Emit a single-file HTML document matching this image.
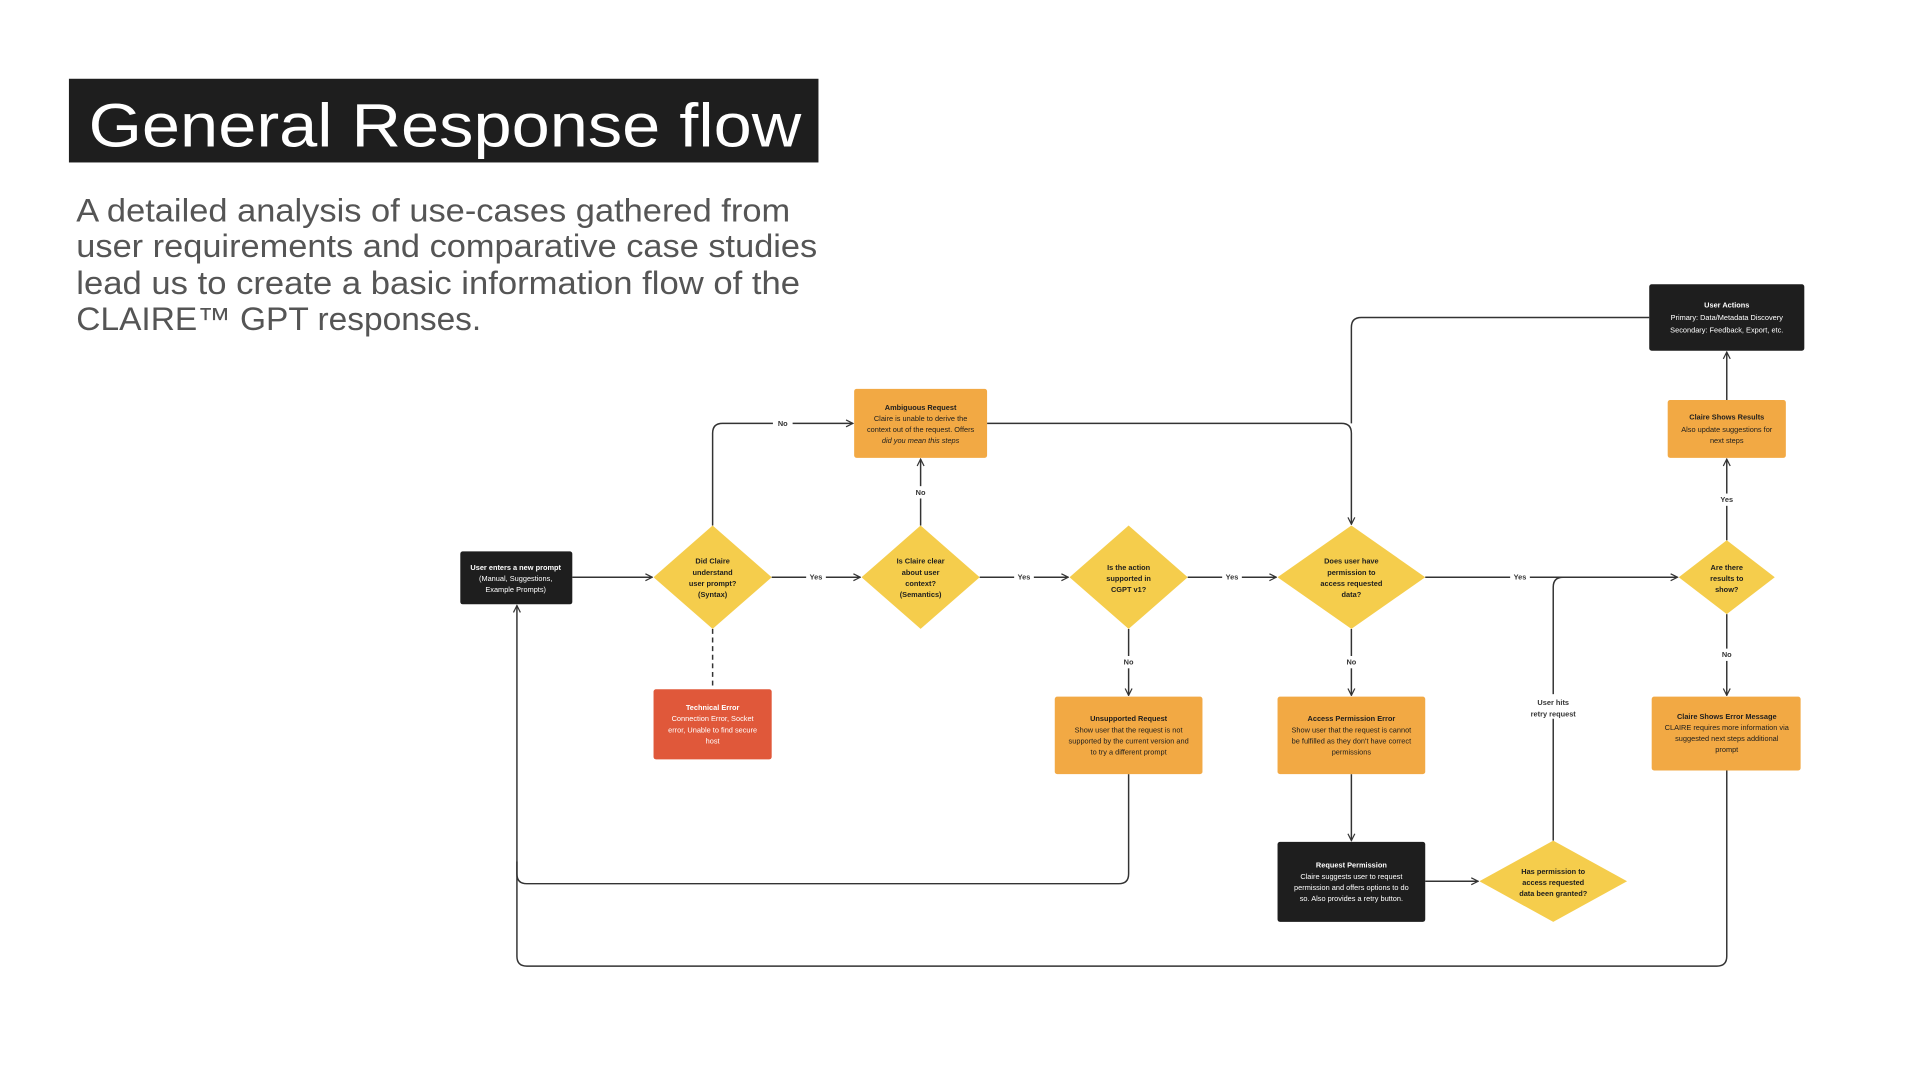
<!DOCTYPE html>
<html><head><meta charset="utf-8"><style>
html,body{margin:0;padding:0;background:#fff;width:1920px;height:1080px;overflow:hidden}
svg{display:block}
text{font-family:"Liberation Sans",sans-serif}
.t{font-size:6px;text-anchor:middle;fill:#1e1e1e}
.tb{font-weight:bold}
.w{fill:#fff}
.lbl{font-size:6px;text-anchor:middle;fill:#333;font-weight:bold}
.ln{fill:none;stroke:#333;stroke-width:1.2}
</style></head><body>
<svg width="1920" height="1080" viewBox="0 0 1560 877.5" xmlns="http://www.w3.org/2000/svg">
<defs><marker id="a" viewBox="0 0 10 10" refX="9" refY="5" markerWidth="7" markerHeight="7" orient="auto-start-reverse" markerUnits="userSpaceOnUse"><path d="M1 1 L9 5 L1 9" fill="none" stroke="#333" stroke-width="1.4"/></marker></defs>

<rect x="56" y="64" width="609" height="68" fill="#1e1e1e"/>
<text x="72" y="119" font-size="50" fill="#fff" textLength="579" lengthAdjust="spacingAndGlyphs">General Response flow</text>
<g font-size="26" fill="#555">
<text x="62" y="180" textLength="580" lengthAdjust="spacingAndGlyphs">A detailed analysis of use-cases gathered from</text>
<text x="62" y="209" textLength="602" lengthAdjust="spacingAndGlyphs">user requirements and comparative case studies</text>
<text x="62" y="239" textLength="588" lengthAdjust="spacingAndGlyphs">lead us to create a basic information flow of the</text>
<text x="62" y="268" textLength="329" lengthAdjust="spacingAndGlyphs">CLAIRE™ GPT responses.</text>
</g>

<!-- connectors -->
<line class="ln" x1="465" y1="469" x2="530" y2="469" marker-end="url(#a)"/>
<line class="ln" x1="627" y1="469" x2="699" y2="469" marker-end="url(#a)"/>
<line class="ln" x1="796" y1="469" x2="868" y2="469" marker-end="url(#a)"/>
<line class="ln" x1="965" y1="469" x2="1037" y2="469" marker-end="url(#a)"/>
<line class="ln" x1="1158" y1="469" x2="1363" y2="469" marker-end="url(#a)"/>
<path class="ln" d="M579 427 V352 Q579 344 587 344 H693" marker-end="url(#a)"/>
<line class="ln" x1="748" y1="427" x2="748" y2="373" marker-end="url(#a)"/>
<path class="ln" d="M802 344 H1090 Q1098 344 1098 352 V426" marker-end="url(#a)"/>
<path class="ln" d="M1340 258 H1106 Q1098 258 1098 266 V344"/>
<line x1="579" y1="511" x2="579" y2="560" stroke="#333" stroke-width="1.2" stroke-dasharray="4 3"/>
<line class="ln" x1="917" y1="511" x2="917" y2="565" marker-end="url(#a)"/>
<line class="ln" x1="1098" y1="511" x2="1098" y2="565" marker-end="url(#a)"/>
<line class="ln" x1="1098" y1="629" x2="1098" y2="683" marker-end="url(#a)"/>
<line class="ln" x1="1158" y1="716" x2="1201" y2="716" stroke-width="2" marker-end="url(#a)"/>
<path class="ln" d="M1262 683 V477 Q1262 469 1270 469"/>
<line class="ln" x1="1403" y1="439" x2="1403" y2="373" marker-end="url(#a)"/>
<line class="ln" x1="1403" y1="325" x2="1403" y2="286" marker-end="url(#a)"/>
<line class="ln" x1="1403" y1="499" x2="1403" y2="565" marker-end="url(#a)"/>
<path class="ln" d="M917 629 V710 Q917 718 909 718 H428 Q420 718 420 710 V492" marker-end="url(#a)"/>
<path class="ln" d="M1403 626 V777 Q1403 785 1395 785 H428 Q420 785 420 777 V700"/>

<!-- labels on connectors -->
<g>
<rect x="628" y="339" width="16" height="10" fill="#fff"/><text class="lbl" x="636" y="346">No</text>
<rect x="740" y="395" width="16" height="10" fill="#fff"/><text class="lbl" x="748" y="402">No</text>
<rect x="655" y="464" width="16" height="10" fill="#fff"/><text class="lbl" x="663" y="471">Yes</text>
<rect x="824" y="464" width="16" height="10" fill="#fff"/><text class="lbl" x="832" y="471">Yes</text>
<rect x="993" y="464" width="16" height="10" fill="#fff"/><text class="lbl" x="1001" y="471">Yes</text>
<rect x="1227" y="464" width="16" height="10" fill="#fff"/><text class="lbl" x="1235" y="471">Yes</text>
<rect x="909" y="533" width="16" height="10" fill="#fff"/><text class="lbl" x="917" y="540">No</text>
<rect x="1090" y="533" width="16" height="10" fill="#fff"/><text class="lbl" x="1098" y="540">No</text>
<rect x="1395" y="401" width="16" height="10" fill="#fff"/><text class="lbl" x="1403" y="408">Yes</text>
<rect x="1395" y="527" width="16" height="10" fill="#fff"/><text class="lbl" x="1403" y="534">No</text>
<rect x="1240" y="564" width="44" height="20" fill="#fff"/><text class="lbl" x="1262" y="573" font-weight="normal">User hits</text><text class="lbl" x="1262" y="582" font-weight="normal">retry request</text>
</g>

<!-- nodes -->
<rect x="374" y="448" width="91" height="43" rx="2" fill="#1e1e1e"/>
<text class="t w tb" x="419" y="463">User enters a new prompt</text>
<text class="t w" x="419" y="472">(Manual, Suggestions,</text>
<text class="t w" x="419" y="481">Example Prompts)</text>

<g fill="#f5cd4c">
<polygon points="579,427 627,469 579,511 531,469"/>
<polygon points="748,427 796,469 748,511 700,469"/>
<polygon points="917,427 965,469 917,511 869,469"/>
<polygon points="1098,427 1158,469 1098,511 1038,469"/>
<polygon points="1403,439 1442,469 1403,499 1364,469"/>
<polygon points="1262,683 1322,716 1262,749 1202,716"/>
</g>
<g class="tb">
<text class="t tb" x="579" y="458">Did Claire</text><text class="t tb" x="579" y="467">understand</text><text class="t tb" x="579" y="476">user prompt?</text><text class="t tb" x="579" y="485">(Syntax)</text>
<text class="t tb" x="748" y="458">Is Claire clear</text><text class="t tb" x="748" y="467">about user</text><text class="t tb" x="748" y="476">context?</text><text class="t tb" x="748" y="485">(Semantics)</text>
<text class="t tb" x="917" y="463">Is the action</text><text class="t tb" x="917" y="472">supported in</text><text class="t tb" x="917" y="481">CGPT v1?</text>
<text class="t tb" x="1098" y="458">Does user have</text><text class="t tb" x="1098" y="467">permission to</text><text class="t tb" x="1098" y="476">access requested</text><text class="t tb" x="1098" y="485">data?</text>
<text class="t tb" x="1403" y="463">Are there</text><text class="t tb" x="1403" y="472">results to</text><text class="t tb" x="1403" y="481">show?</text>
<text class="t tb" x="1262" y="710">Has permission to</text><text class="t tb" x="1262" y="719">access requested</text><text class="t tb" x="1262" y="728">data been granted?</text>
</g>

<rect x="694" y="316" width="108" height="56" rx="2" fill="#f2a944"/>
<text class="t tb" x="748" y="333">Ambiguous Request</text>
<text class="t" x="748" y="342">Claire is unable to derive the</text>
<text class="t" x="748" y="351">context out of the request. Offers</text>
<text class="t" x="748" y="360" font-style="italic">did you mean this steps</text>

<rect x="531" y="560" width="96" height="57" rx="2" fill="#e0583a"/>
<text class="t w tb" x="579" y="577">Technical Error</text>
<text class="t w" x="579" y="586">Connection Error, Socket</text>
<text class="t w" x="579" y="595">error, Unable to find secure</text>
<text class="t w" x="579" y="604">host</text>

<rect x="857" y="566" width="120" height="63" rx="2" fill="#f2a944"/>
<text class="t tb" x="917" y="586">Unsupported Request</text>
<text class="t" x="917" y="595">Show user that the request is not</text>
<text class="t" x="917" y="604">supported by the current version and</text>
<text class="t" x="917" y="613">to try a different prompt</text>

<rect x="1038" y="566" width="120" height="63" rx="2" fill="#f2a944"/>
<text class="t tb" x="1098" y="586">Access Permission Error</text>
<text class="t" x="1098" y="595">Show user that the request is cannot</text>
<text class="t" x="1098" y="604">be fulfilled as they don't have correct</text>
<text class="t" x="1098" y="613">permissions</text>

<rect x="1038" y="684" width="120" height="65" rx="2" fill="#1e1e1e"/>
<text class="t w tb" x="1098" y="705">Request Permission</text>
<text class="t w" x="1098" y="714">Claire suggests user to request</text>
<text class="t w" x="1098" y="723">permission and offers options to do</text>
<text class="t w" x="1098" y="732">so. Also provides a retry button.</text>

<rect x="1342" y="566" width="121" height="60" rx="2" fill="#f2a944"/>
<text class="t tb" x="1403" y="584">Claire Shows Error Message</text>
<text class="t" x="1403" y="593">CLAIRE requires more information via</text>
<text class="t" x="1403" y="602">suggested next steps additional</text>
<text class="t" x="1403" y="611">prompt</text>

<rect x="1355" y="325" width="96" height="47" rx="2" fill="#f2a944"/>
<text class="t tb" x="1403" y="341">Claire Shows Results</text>
<text class="t" x="1403" y="351">Also update suggestions for</text>
<text class="t" x="1403" y="360">next steps</text>

<rect x="1340" y="231" width="126" height="54" rx="2" fill="#1e1e1e"/>
<text class="t w tb" x="1403" y="250">User Actions</text>
<text class="t w" x="1403" y="260">Primary: Data/Metadata Discovery</text>
<text class="t w" x="1403" y="270">Secondary: Feedback, Export, etc.</text>
</svg>
</body></html>
